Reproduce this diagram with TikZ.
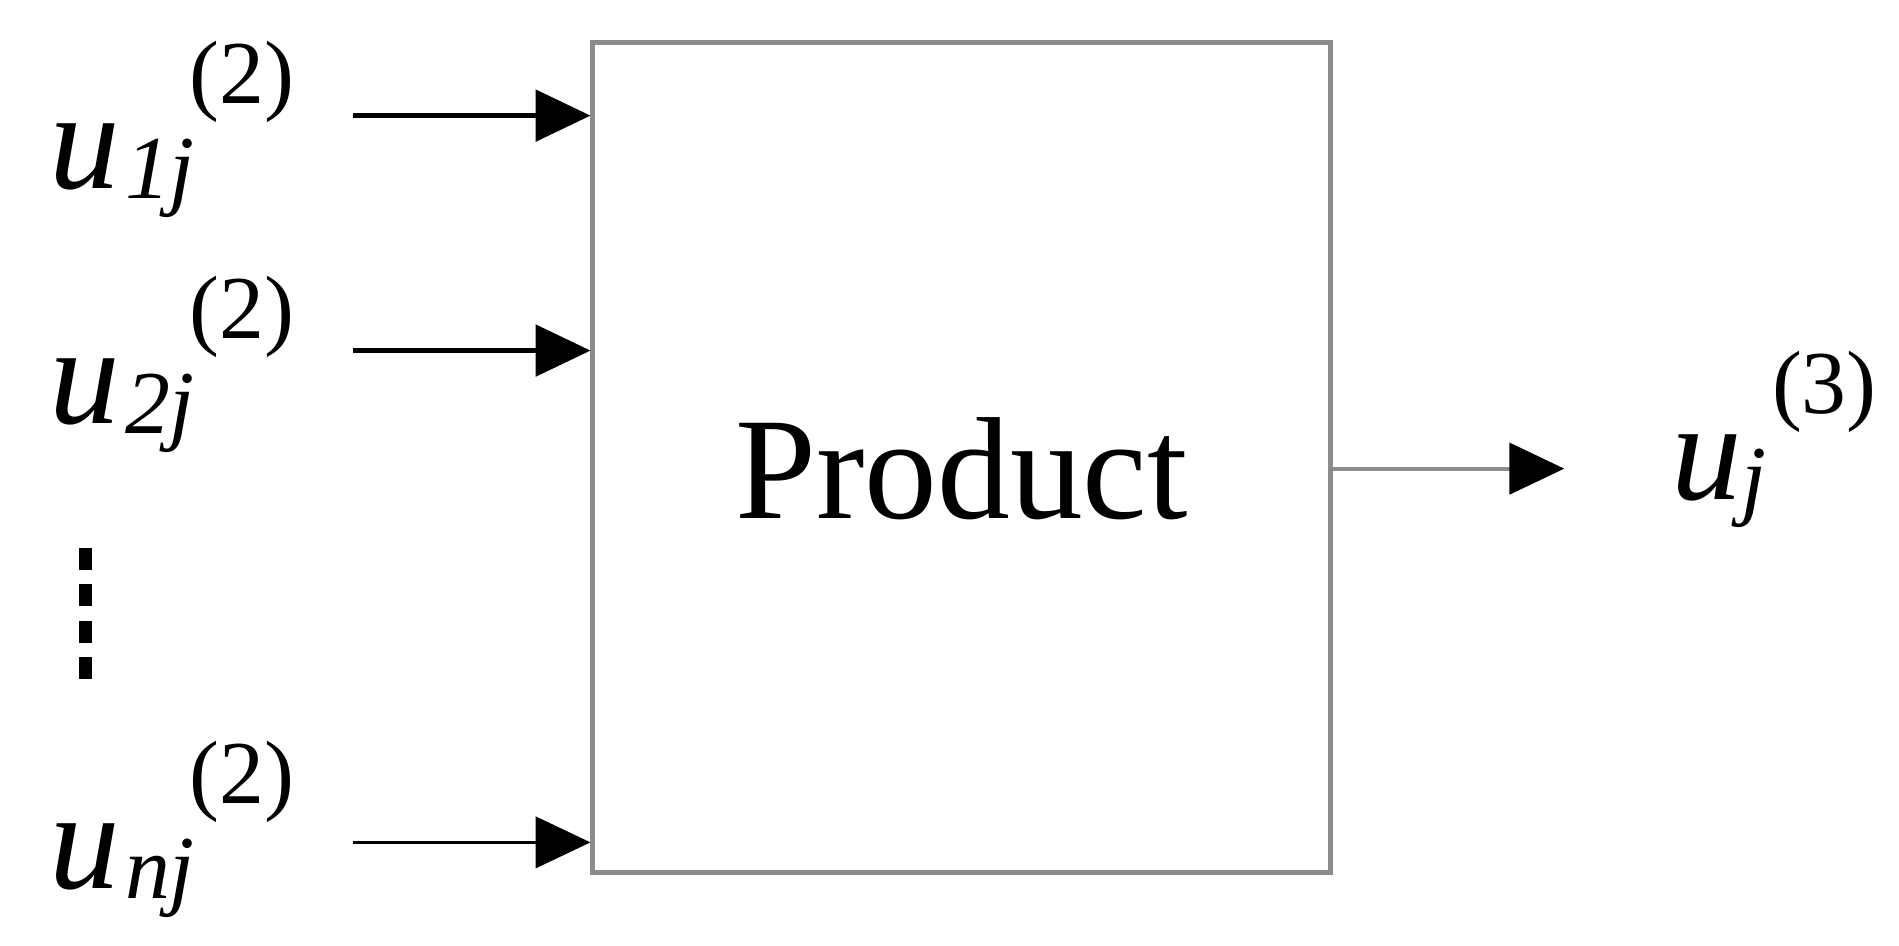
\documentclass[tikz,border=0pt]{standalone}
\usepackage{fontspec}
\setmainfont{Liberation Serif}
\usetikzlibrary{arrows.meta}
\begin{document}
\begin{tikzpicture}
\tikzset{
  big/.style={inner sep=0pt,anchor=base west,font=\fontsize{33}{36}\selectfont\itshape},
  small/.style={inner sep=0pt,anchor=base west,font=\fontsize{21}{22}\selectfont\itshape},
  sup/.style={inner sep=0pt,anchor=base west,font=\fontsize{21}{22}\selectfont},
  arr/.style={-{Triangle[length=0.45cm,width=0.42cm]},line width=1.1pt},
  box/.style={draw=black!45,line width=1.1pt,minimum width=6.06cm,minimum height=6.82cm,inner sep=0pt}
}
\useasboundingbox (0,0) rectangle (15.6,7.77);
\node[box] (P) at (7.9,4.01) {};
\node[inner sep=0pt,font=\fontsize{34}{36}\selectfont] (Pt) at (7.9,3.92) {Product};
% inputs
\node[big] (u1) at (0.4,6.22) {u};
\node[small] (s1) at (1.02,6.14) {1j};
\node[sup] (p1) at (1.55,6.92) {(2)};
\node[big] (u2) at (0.4,4.29) {u};
\node[small] (s2) at (1.02,4.21) {2j};
\node[sup] (p2) at (1.55,4.99) {(2)};
\node[big] (un) at (0.4,0.47) {u};
\node[small] (sn) at (1.02,0.39) {nj};
\node[sup] (pn) at (1.55,1.17) {(2)};
\node[big] (uo) at (13.72,3.67) {u};
\node[small] (so) at (14.3,3.59) {j};
\node[sup] (po) at (14.55,4.37) {(3)};
% connectors
\coordinate (a1) at (2.9,6.82);
\coordinate (a2) at (2.9,4.89);
\coordinate (an) at (2.9,0.85);
\coordinate (out) at (12.85,3.92);
\draw[arr] (a1) -- (a1 -| P.west);
\draw[arr] (a2) -- (a2 -| P.west);
\draw[arr,line width=0.8pt] (an) -- (an -| P.west);
\draw[-{Triangle[length=0.45cm,width=0.42cm,color=black]},draw=black!45,line width=0.9pt] (out -| P.east) -- (out);
% dots
\coordinate (d1) at (0.7,3.27);
\coordinate (d2) at (0.7,2.17);
\draw[line width=3pt,dash pattern=on 0.18cm off 0.12cm] (d1) -- (d2);
\end{tikzpicture}
\end{document}
